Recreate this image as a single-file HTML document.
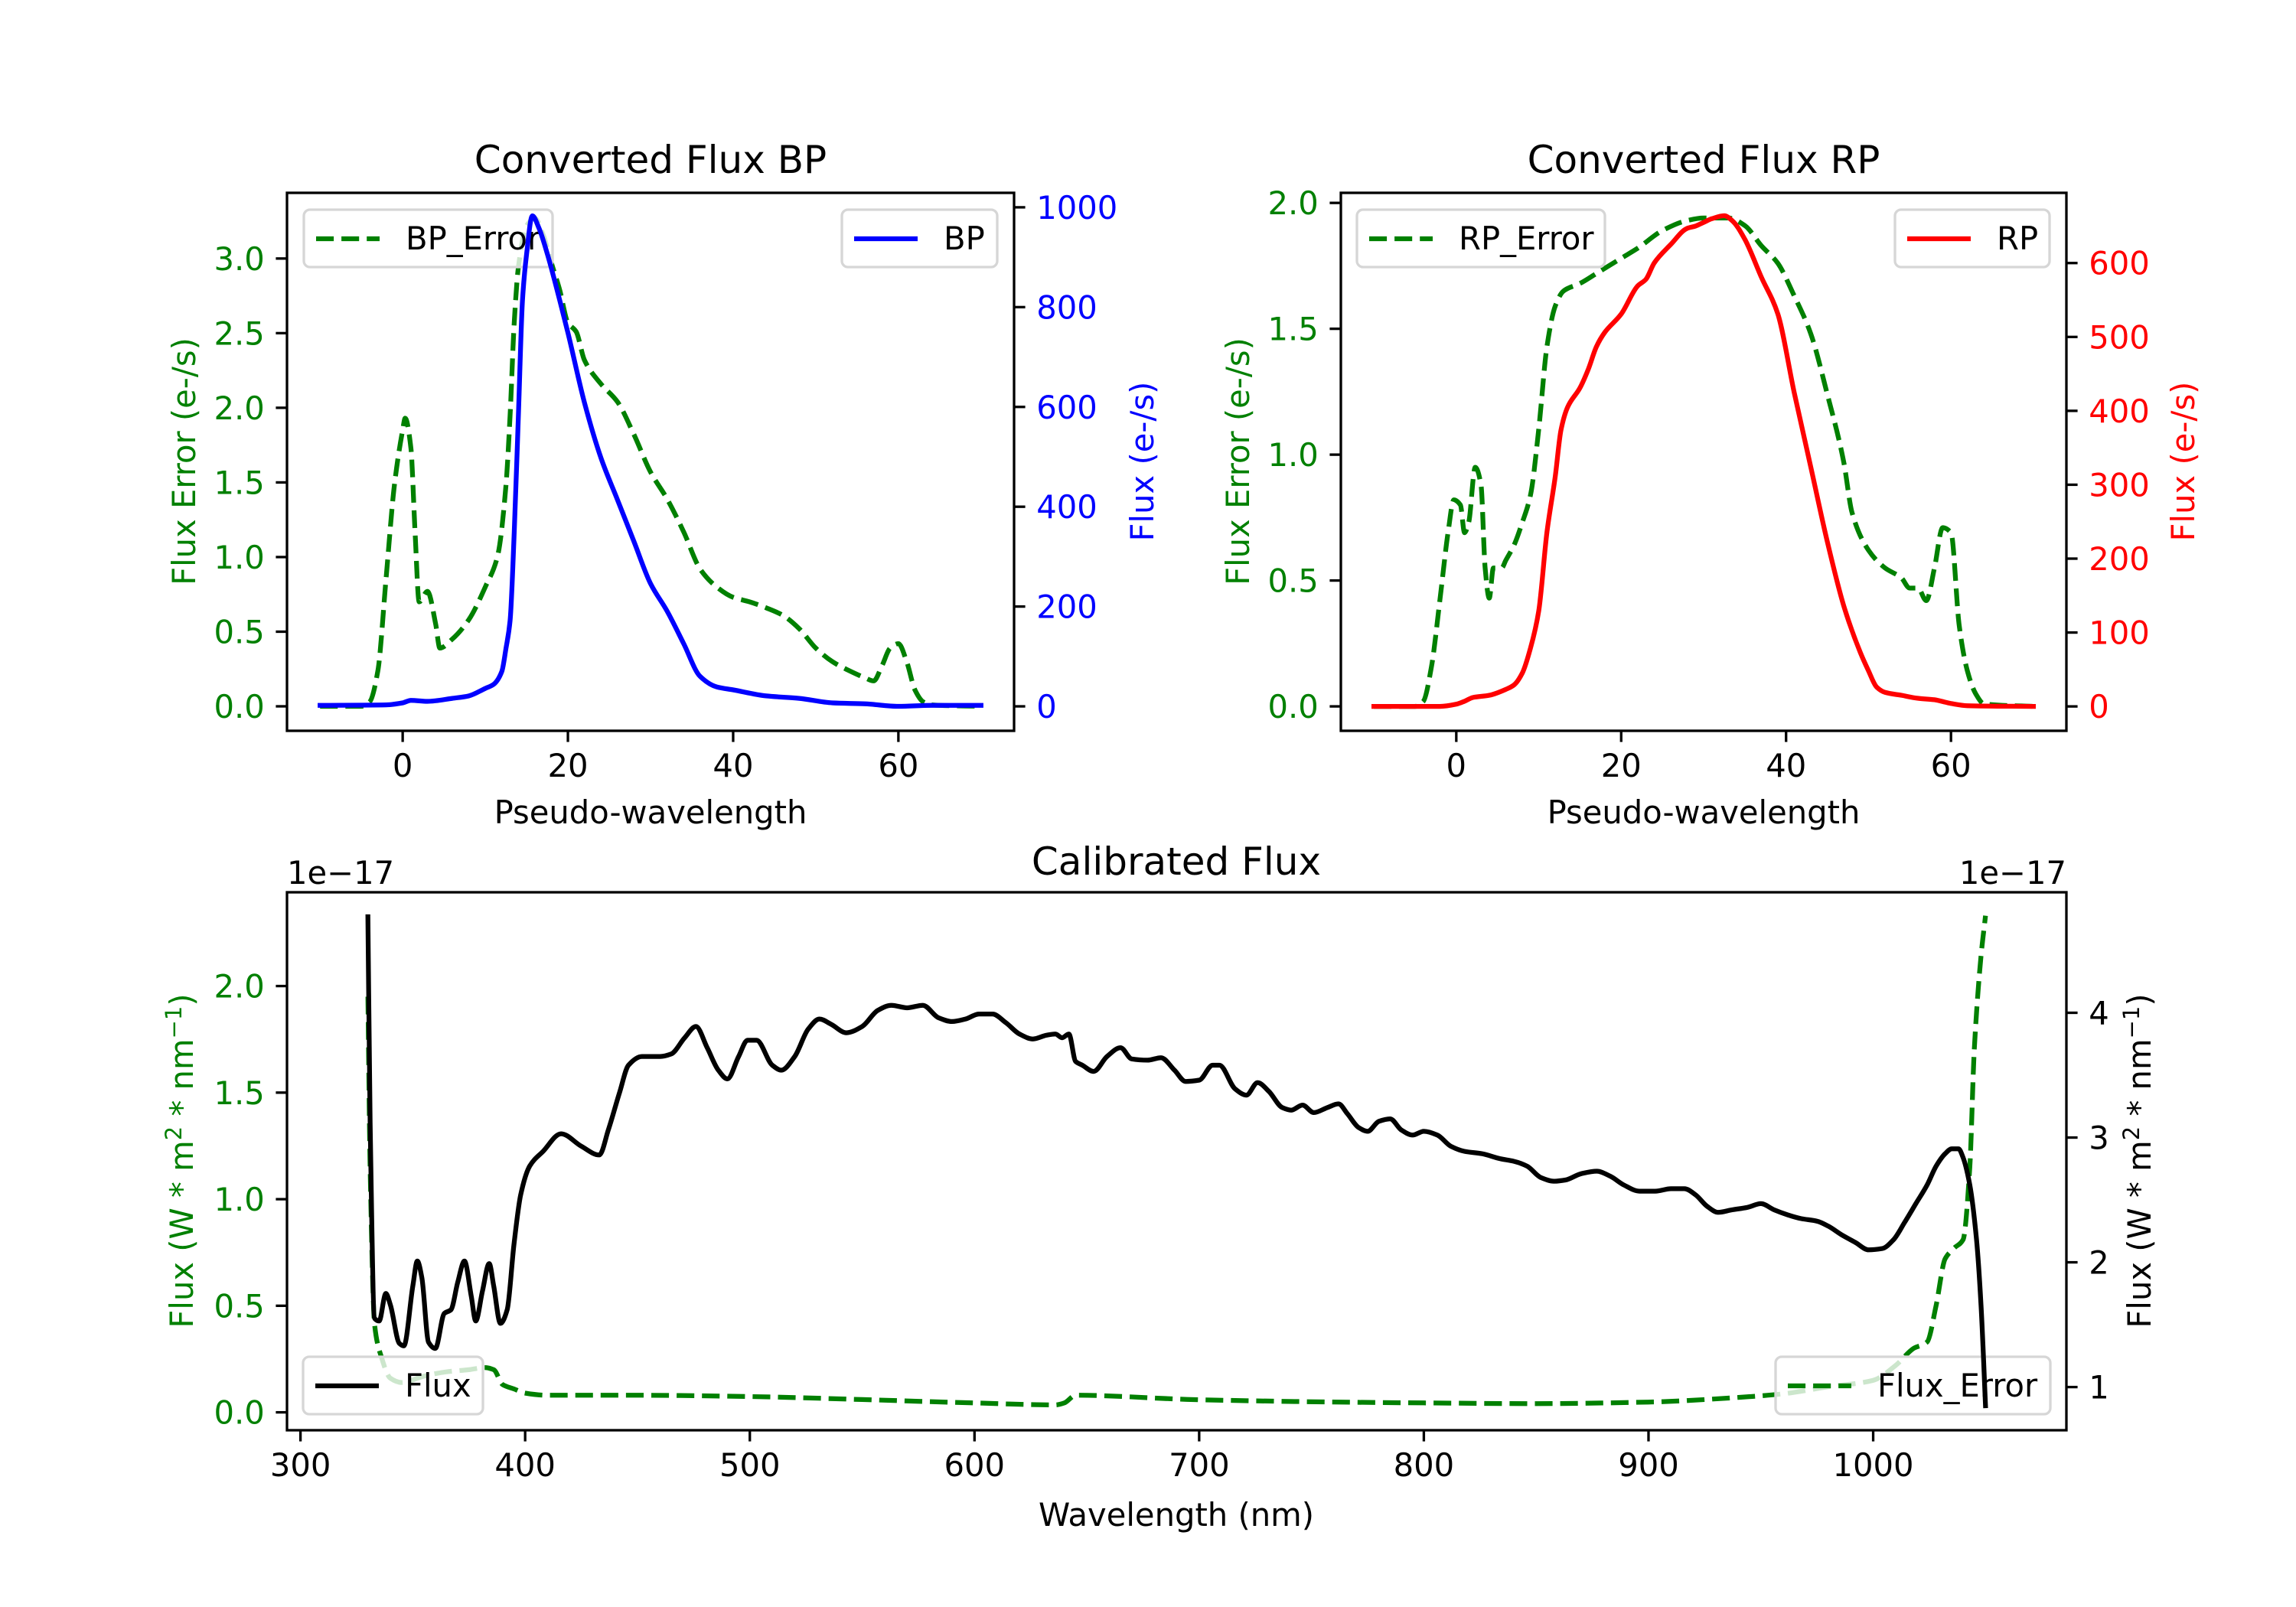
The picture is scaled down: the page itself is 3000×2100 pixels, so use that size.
<!DOCTYPE html>
<html><head><meta charset="utf-8"><style>
html,body{margin:0;padding:0;background:#fff;}
svg{display:block;font-family:"DejaVu Sans","Liberation Sans",sans-serif;}
</style></head><body>
<svg id="fig" width="3000" height="2100" viewBox="0 0 3000 2100" xmlns="http://www.w3.org/2000/svg">
<rect width="3000" height="2100" fill="#fff"/>
</svg>
<script>
// ---- BP panel data ----
const bpX = [-10,-2,0,1,3,6,8,10,11,12,12.5,13,13.5,14,14.5,15,15.7,16.5,17.5,19,20,22,24,26,28,30,32,34,36,38,40,44,48,52,56,60,64,70];
const bpFlux = [2,3,7,12,10,16,21,36,44,70,116,172,349,581,814,907,983,958,907,814,749,609,498,414,330,246,191,126,60,39,33,21,16,7,5,0,2,2];
const bpErrX = [-10,-5,-4,-3,-2,-1,0,0.3,1,1.5,2,3,4,4.5,6,8,10,11.5,12.5,13,13.5,14,15,16,17,18,19,20,21,22,24,26,28,30,32,34,36,38,40,42,44,46,48,50,52,54,56,57,58,59,60,61,62,63,64,70];
const bpErr = [0,0,0.03,0.24,0.86,1.48,1.85,1.93,1.73,1.17,0.70,0.77,0.55,0.39,0.45,0.58,0.80,1.01,1.48,1.95,2.57,2.94,3.22,3.27,3.16,2.97,2.79,2.57,2.51,2.32,2.16,2.04,1.82,1.57,1.39,1.17,0.92,0.80,0.73,0.70,0.66,0.61,0.52,0.39,0.30,0.24,0.19,0.17,0.27,0.39,0.42,0.30,0.11,0.03,0.01,0];
// ---- RP panel data ----
const rpX = [-10,-2,0,1,2,4,6,7,8,9,10,11,12,12.7,13.5,15,16,17,18,20,22,23,24,26,28,29,30,31,32.5,33.5,35,37,39,41,43,45,47,49,50,51,52,54,56,58,60,62,70];
const rpFlux = [0,0,3,7,12,15,23,29,45,79,129,236,311,374,405,431,456,487,506,531,569,578,600,625,647,650,655,660,664,657,632,581,531,424,324,223,136,73,48,26,19,15,11,9,4,1,0];
const rpErrX = [-10,-5,-4,-3,-2,-1,-0.3,0.5,1,1.5,2.3,3,3.5,4,4.5,5.5,6,7,8,9,10,11,12,13,15,17,20,22,25,28,30,33,35,37,39,41,43,45,47,48,50,52,54,55,56,57,58,59,60,61,62,63,64,70];
const rpErr = [0,0,0.02,0.16,0.42,0.69,0.82,0.80,0.69,0.73,0.95,0.88,0.55,0.43,0.55,0.55,0.58,0.64,0.73,0.84,1.10,1.43,1.59,1.65,1.68,1.72,1.78,1.82,1.89,1.93,1.94,1.94,1.91,1.83,1.76,1.63,1.48,1.24,0.97,0.77,0.62,0.55,0.51,0.47,0.47,0.42,0.55,0.71,0.69,0.32,0.14,0.05,0.01,0];
// ---- Calibrated panel data (units of 1e-17) ----
const calWl = [330,331,333,335,338,340,344,346,350,352,354,357,360,364,367,370,373,376,378,381,384,386,389,392,395,398,402,408,416,425,433,437,442,446,452,460,465,471,476,481,486,490,495,499,503,510,514,520,526,531,536,543,550,557,563,570,577,584,590,596,602,608,614,620,626,632,636,639,642,645,648,653,659,665,670,677,683,689,694,700,706,709,716,721,726,731,737,741,746,751,757,762,766,771,775,780,785,790,795,800,806,812,818,826,834,840,846,852,858,863,870,877,883,889,896,903,910,916,921,926,931,937,944,950,956,962,968,975,980,986,992,998,1004,1009,1014,1019,1024,1028,1032,1035,1038,1040,1043,1046,1048,1050];
const calFlux = [4.77,3.13,1.55,1.53,1.75,1.66,1.35,1.33,1.81,2.01,1.88,1.36,1.31,1.59,1.62,1.84,2.01,1.73,1.53,1.77,1.99,1.81,1.51,1.62,2.14,2.54,2.77,2.89,3.03,2.93,2.86,3.06,3.36,3.58,3.65,3.65,3.67,3.80,3.89,3.72,3.54,3.47,3.65,3.78,3.78,3.58,3.54,3.65,3.87,3.95,3.91,3.84,3.89,4.02,4.06,4.04,4.06,3.96,3.93,3.95,3.99,3.99,3.92,3.83,3.79,3.82,3.83,3.80,3.83,3.61,3.58,3.53,3.65,3.72,3.63,3.62,3.64,3.54,3.45,3.46,3.58,3.58,3.39,3.34,3.44,3.37,3.24,3.22,3.26,3.20,3.24,3.27,3.19,3.08,3.05,3.13,3.15,3.06,3.02,3.05,3.02,2.93,2.89,2.87,2.83,2.81,2.77,2.68,2.65,2.66,2.71,2.73,2.69,2.62,2.57,2.57,2.59,2.59,2.54,2.45,2.40,2.42,2.44,2.47,2.42,2.38,2.35,2.33,2.29,2.22,2.16,2.10,2.11,2.18,2.32,2.47,2.62,2.77,2.87,2.91,2.91,2.84,2.62,2.18,1.66,0.85];
const errWl = [330,331,333,336,340,345,355,365,375,382,386,390,395,400,410,450,500,550,600,636,640,645,700,800,850,900,940,960,980,1000,1010,1018,1024,1028,1032,1036,1040,1043,1045,1048,1050];
const calErr = [1.95,1.15,0.41,0.26,0.16,0.14,0.17,0.19,0.20,0.21,0.20,0.13,0.11,0.09,0.08,0.08,0.074,0.06,0.044,0.035,0.044,0.08,0.059,0.044,0.041,0.048,0.07,0.087,0.12,0.15,0.22,0.30,0.33,0.50,0.72,0.77,0.81,1.15,1.70,2.14,2.33];
// ---- ticks ----
const pxTicks = [0,20,40,60];
const bpLeftTicks = ["0.0","0.5","1.0","1.5","2.0","2.5","3.0"];
const bpRightTicks = ["0","200","400","600","800","1000"];
const rpLeftTicks = ["0.0","0.5","1.0","1.5","2.0"];
const rpRightTicks = ["0","100","200","300","400","500","600"];
const calXTicks = ["300","400","500","600","700","800","900","1000"];
const calLeftTicks = ["0.0","0.5","1.0","1.5","2.0"];
const calRightTicks = ["1","2","3","4"];

const NS = "http://www.w3.org/2000/svg";
const svg = document.getElementById('fig');
const FS = 41.7, TL = 14.6, LW = 6.25;
function el(tag, attrs, parent){ const e=document.createElementNS(NS,tag); for(const k in attrs) e.setAttribute(k,attrs[k]); (parent||svg).appendChild(e); return e; }
function lin(d0,d1,r0,r1){ return v => r0 + (v-d0)*(r1-r0)/(d1-d0); }
function txt(s, x, y, opts, parent){ const t = el('text', Object.assign({x:x,y:y,'font-size':FS,fill:'#000'}, opts||{}), parent); t.textContent = s; return t; }

function makeAxes(name, L, R, T, B){
  const g = el('g', {});
  
  
  return {g, L, R, T, B};
}
function frame(ax){
  const r = el('rect',{x:ax.L,y:ax.T,width:ax.R-ax.L,height:ax.B-ax.T,fill:'none',stroke:'#000','stroke-width':3.3}, ax.g);
  
  
}
function xTicks(ax, vals, labels, sx){
  vals.forEach((v,i)=>{
    const x = sx(v);
    el('line',{x1:x,x2:x,y1:ax.B,y2:ax.B+TL,stroke:'#000','stroke-width':3.3}, ax.g);
    const t = txt(labels[i], x, ax.B+TL+14.6+31, {'text-anchor':'middle'}, ax.g);
    
    
  });
}
function yTicks(ax, labels, sy, side, color){
  labels.forEach(s=>{
    const v = parseFloat(s); const y = sy(v);
    const x0 = side==='left'?ax.L:ax.R, dx = side==='left'?-TL:TL;
    el('line',{x1:x0,x2:x0+dx,y1:y,y2:y,stroke:'#000','stroke-width':3.3}, ax.g);
    const t = txt(s, side==='left'? x0-TL-14.6 : x0+TL+14.6, y+15, {'text-anchor': side==='left'?'end':'start', fill:color}, ax.g);
    
    
  });
}
// monotone cubic path in pixel space
function smoothPath(P){
  const n = P.length; if(n<2) return '';
  const dx=[], m=[], t=new Array(n);
  for(let i=0;i<n-1;i++){ dx[i]=P[i+1][0]-P[i][0]; m[i]=(P[i+1][1]-P[i][1])/(dx[i]||1e-9); }
  t[0]=m[0]; t[n-1]=m[n-2];
  for(let i=1;i<n-1;i++){
    if(m[i-1]*m[i]<=0) t[i]=0;
    else { const w1=2*dx[i]+dx[i-1], w2=dx[i]+2*dx[i-1]; t[i]=(w1+w2)/(w1/m[i-1]+w2/m[i]); }
  }
  let d='M'+P[0][0].toFixed(1)+','+P[0][1].toFixed(1);
  for(let i=0;i<n-1;i++){
    const h=dx[i]/3;
    d+=' C'+(P[i][0]+h).toFixed(1)+','+(P[i][1]+t[i]*h).toFixed(1)+' '+(P[i+1][0]-h).toFixed(1)+','+(P[i+1][1]-t[i+1]*h).toFixed(1)+' '+P[i+1][0].toFixed(1)+','+P[i+1][1].toFixed(1);
  }
  return d;
}
function series(ax, xs, ys, sx, sy, color, dashed, name){
  const P = xs.map((x,i)=>[sx(x), sy(ys[i])]);
  const p = el('path',{d:smoothPath(P),fill:'none',stroke:color,'stroke-width':LW,'stroke-linejoin':'round','stroke-linecap':dashed?'butt':'square','stroke-dasharray':dashed?'23.1 10':'none'}, ax.g);
  
  
  return p;
}
function legend(ax, x0, y0, w, label, color, dashed, name){
  const g = el('g',{}, ax.g);
  
  
  el('rect',{x:x0,y:y0,width:w,height:75,rx:8,fill:'#fff','fill-opacity':0.8,stroke:'#d6d6d6','stroke-width':3.3}, g);
  el('line',{x1:x0+16,x2:x0+99,y1:y0+38,y2:y0+38,stroke:color,'stroke-width':LW,'stroke-dasharray':dashed?'23.1 10':'none'}, g);
  txt(label, x0+133, y0+52, {}, g);
}
function ylabel(x, y, s, color, name, rot){
  const t = el('text',{x:x,y:y,'font-size':FS,fill:color,'text-anchor':'middle',transform:`rotate(${rot} ${x} ${y})`});
  t.innerHTML = s;
  
  
}

// ===== BP =====
{
  const ax = makeAxes('bp-panel', 375, 1325, 252, 955);
  const sx = lin(-14, 74, ax.L, ax.R);
  const syL = lin(-0.164, 3.44, ax.B, ax.T);
  const syR = lin(-49, 1029, ax.B, ax.T);
  series(ax, bpErrX, bpErr, sx, syL, '#008000', true, 'bp-error-line');
  legend(ax, 397, 274, 325, 'BP_Error', '#008000', true, 'bp-error-legend');
  series(ax, bpX, bpFlux, sx, syR, '#0000ff', false, 'bp-flux-line');
  legend(ax, 1100, 274, 203, 'BP', '#0000ff', false, 'bp-legend');
  frame(ax);
  xTicks(ax, pxTicks, pxTicks.map(String), sx);
  yTicks(ax, bpLeftTicks, syL, 'left', '#008000');
  yTicks(ax, bpRightTicks, syR, 'right', '#0000ff');
  const t = txt('Converted Flux BP', 850, 226, {'text-anchor':'middle','font-size':50});
   
  const xl = txt('Pseudo-wavelength', 850, 1076, {'text-anchor':'middle'});
   
  ylabel(255, 603, 'Flux Error (e-/s)', '#008000', 'bp-left-y-axis-title', -90);
  ylabel(1507, 603, 'Flux (e-/s)', '#0000ff', 'bp-right-y-axis-title', -90);
}
// ===== RP =====
{
  const ax = makeAxes('rp-panel', 1752, 2700, 252, 955);
  const sx = lin(-14, 74, ax.L, ax.R);
  const syL = lin(-0.097, 2.04, ax.B, ax.T);
  const syR = lin(-33, 695, ax.B, ax.T);
  series(ax, rpErrX, rpErr, sx, syL, '#008000', true, 'rp-error-line');
  legend(ax, 1773, 274, 324, 'RP_Error', '#008000', true, 'rp-error-legend');
  series(ax, rpX, rpFlux, sx, syR, '#ff0000', false, 'rp-flux-line');
  legend(ax, 2476, 274, 202, 'RP', '#ff0000', false, 'rp-legend');
  frame(ax);
  xTicks(ax, pxTicks, pxTicks.map(String), sx);
  yTicks(ax, rpLeftTicks, syL, 'left', '#008000');
  yTicks(ax, rpRightTicks, syR, 'right', '#ff0000');
  const t = txt('Converted Flux RP', 2226, 226, {'text-anchor':'middle','font-size':50});
   
  const xl = txt('Pseudo-wavelength', 2226, 1076, {'text-anchor':'middle'});
   
  ylabel(1632, 603, 'Flux Error (e-/s)', '#008000', 'rp-left-y-axis-title', -90);
  ylabel(2867, 603, 'Flux (e-/s)', '#ff0000', 'rp-right-y-axis-title', -90);
}
// ===== Calibrated =====
{
  const ax = makeAxes('calibrated-panel', 375, 2700, 1166, 1869);
  const sx = lin(294, 1086, ax.L, ax.R);
  const syL = lin(-0.084, 2.44, ax.B, ax.T);
  const syR = lin(0.654, 4.966, ax.B, ax.T);
  series(ax, errWl, calErr, sx, syL, '#008000', true, 'flux-error-line');
  legend(ax, 396, 1773, 235, 'Flux', '#000', false, 'flux-legend');
  legend(ax, 2320, 1773, 359, 'Flux_Error', '#008000', true, 'flux-error-legend');
  series(ax, calWl, calFlux, sx, syR, '#000', false, 'flux-line');
  frame(ax);
  xTicks(ax, calXTicks.map(Number), calXTicks, sx);
  yTicks(ax, calLeftTicks, syL, 'left', '#008000');
  yTicks(ax, calRightTicks, syR, 'right', '#000');
  const t = txt('Calibrated Flux', 1537, 1143, {'text-anchor':'middle','font-size':50});
   
  const o1 = txt('1e\u221217', 375, 1155, {});
   
  const o2 = txt('1e\u221217', 2700, 1155, {'text-anchor':'end'});
   
  const xl = txt('Wavelength (nm)', 1537, 1994, {'text-anchor':'middle'});
   
  const lab = 'Flux (W * m<tspan font-size="29" dy="-15">2</tspan><tspan dy="15"> * nm</tspan><tspan font-size="29" dy="-15">\u22121</tspan><tspan dy="15">)</tspan>';
  ylabel(252, 1517, lab, '#008000', 'calibrated-left-y-axis-title', -90);
  ylabel(2810, 1517, lab, '#000', 'calibrated-right-y-axis-title', -90);
}
</script>
</body></html>
